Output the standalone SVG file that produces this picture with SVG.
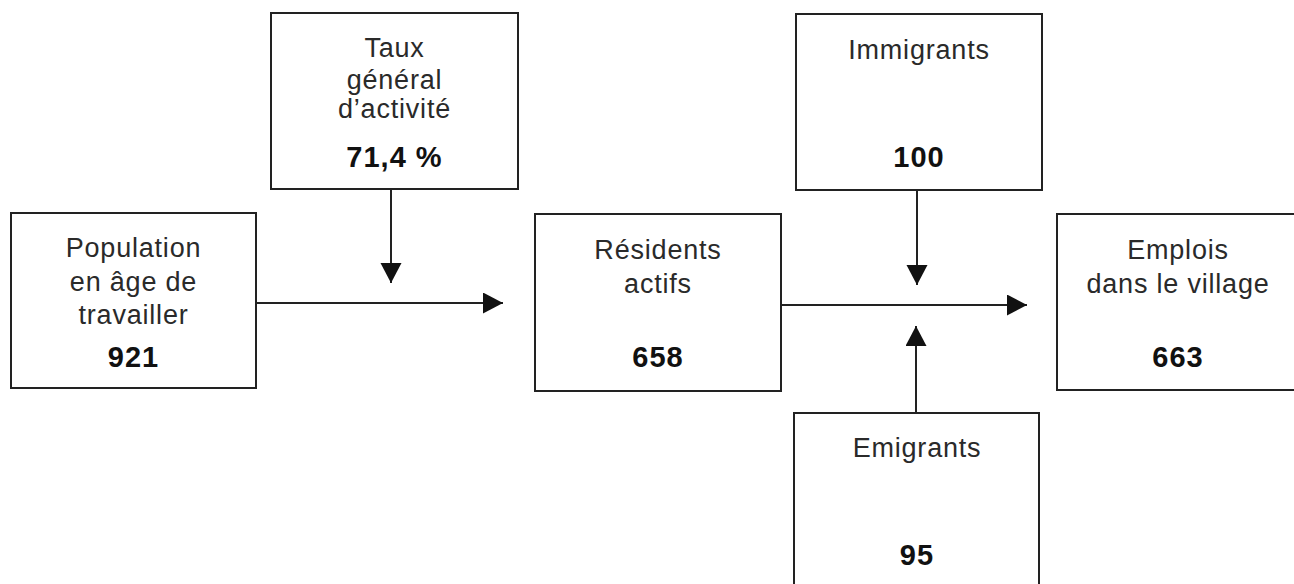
<svg xmlns="http://www.w3.org/2000/svg" width="1294" height="584" viewBox="0 0 1294 584">
<defs>
<marker id="ah" markerUnits="userSpaceOnUse" markerWidth="22" markerHeight="22" refX="20" refY="10.5" orient="auto">
<path d="M0,0 L20,10.5 L0,21 Z" fill="#111"/>
</marker>
<style>
.box{fill:#fff;stroke:#222;stroke-width:2}
.t{font-family:"Liberation Sans",Arial,sans-serif;font-size:27px;fill:#2a2a2a;text-anchor:middle;letter-spacing:0.8px}
.n{font-family:"Liberation Sans",Arial,sans-serif;font-size:29px;font-weight:bold;fill:#111;text-anchor:middle;letter-spacing:1px}
.c{stroke:#222;stroke-width:2;fill:none}
</style>
</defs>
<rect width="1294" height="584" fill="#fff"/>
<g id="population">
<rect class="box" x="11" y="213" width="245" height="175"/>
<text class="t" x="133.5" y="257">Population</text>
<text class="t" x="133.5" y="291">en âge de</text>
<text class="t" x="133.5" y="324">travailler</text>
<text class="n" x="133.5" y="367">921</text>
</g>
<g id="taux">
<rect class="box" x="271" y="13" width="247" height="176"/>
<text class="t" x="394.5" y="57">Taux</text>
<text class="t" x="394.5" y="89">général</text>
<text class="t" x="394.5" y="118">d’activité</text>
<text class="n" x="394.5" y="167">71,4 %</text>
</g>
<g id="residents">
<rect class="box" x="535" y="214" width="246" height="177"/>
<text class="t" x="658" y="259">Résidents</text>
<text class="t" x="658" y="293">actifs</text>
<text class="n" x="658" y="367">658</text>
</g>
<g id="immigrants">
<rect class="box" x="796" y="14" width="246" height="176"/>
<text class="t" x="919" y="59">Immigrants</text>
<text class="n" x="919" y="167">100</text>
</g>
<g id="emigrants">
<rect class="box" x="794" y="413" width="245" height="190"/>
<text class="t" x="917" y="457">Emigrants</text>
<text class="n" x="917" y="565">95</text>
</g>
<g id="emplois">
<rect class="box" x="1057" y="214" width="250" height="176"/>
<text class="t" x="1178" y="259">Emplois</text>
<text class="t" x="1178" y="293">dans le village</text>
<text class="n" x="1178" y="367">663</text>
</g>
<g id="connectors">
<line class="c" x1="256" y1="303" x2="503" y2="303" marker-end="url(#ah)"/>
<line class="c" x1="391" y1="189" x2="391" y2="283" marker-end="url(#ah)"/>
<line class="c" x1="781" y1="305" x2="1027" y2="305" marker-end="url(#ah)"/>
<line class="c" x1="917" y1="190" x2="917" y2="285" marker-end="url(#ah)"/>
<line class="c" x1="916" y1="413" x2="916" y2="326" marker-end="url(#ah)"/>
</g>
</svg>
